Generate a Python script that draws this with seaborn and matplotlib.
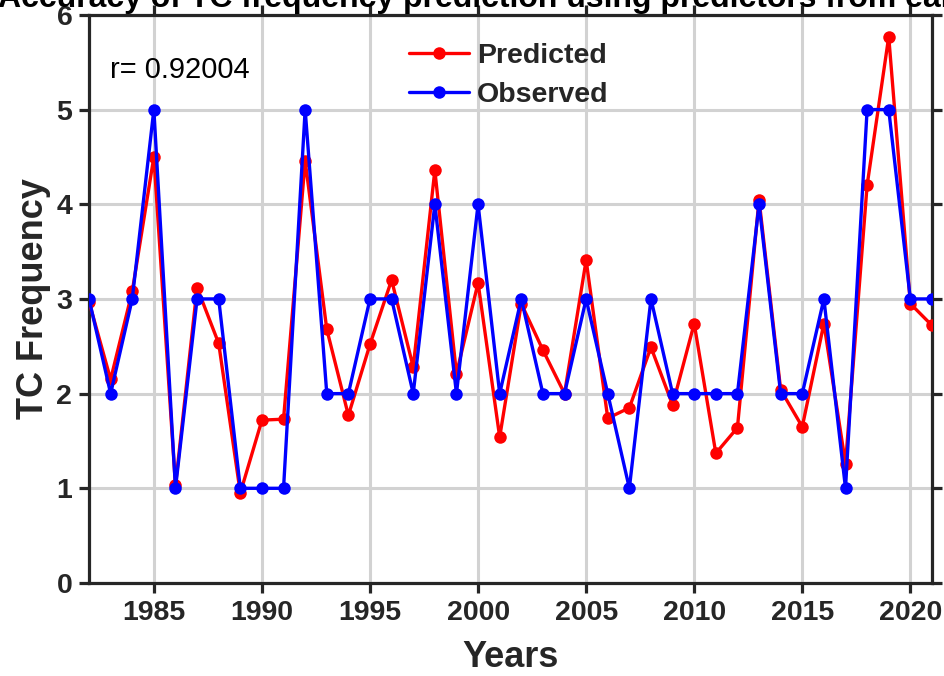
import numpy as np
import pandas as pd
import seaborn as sns
import matplotlib.pyplot as plt

# data
years = list(range(1982, 2022))
observed = [3, 2, 3, 5, 1, 3, 3, 1, 1, 1,
            5, 2, 2, 3, 3, 2, 4, 2, 4, 2,
            3, 2, 2, 3, 2, 1, 3, 2, 2, 2,
            2, 4, 2, 2, 3, 1, 5, 5, 3, 3]
predicted = [2.97, 2.15, 3.08, 4.50, 1.03, 3.12, 2.53, 0.95, 1.72, 1.73,
             4.46, 2.68, 1.77, 2.52, 3.20, 2.28, 4.36, 2.21, 3.17, 1.54,
             2.95, 2.46, 2.00, 3.41, 1.74, 1.85, 2.49, 1.88, 2.74, 1.37,
             1.64, 4.05, 2.04, 1.65, 2.74, 1.26, 4.20, 5.77, 2.95, 2.72]
r_text = "r= 0.92004"
title = "Accuracy of TC frequency prediction using predictors from earlier months"

df = pd.DataFrame({"Years": years, "Predicted": predicted, "Observed": observed})

sns.set_theme(style="ticks")
plt.rcParams['font.family'] = ['Liberation Sans', 'DejaVu Sans']
dark = '#262626'

fig = plt.figure(figsize=(9.45, 6.76), dpi=100)
ax = fig.add_axes([0.0942, 0.1376, 0.892, 0.8404])

sns.lineplot(data=df, x="Years", y="Predicted", ax=ax, color='red', marker='o',
             markersize=9, markeredgewidth=0, linewidth=2.4, label="Predicted", zorder=3)
sns.lineplot(data=df, x="Years", y="Observed", ax=ax, color='blue', marker='o',
             markersize=9, markeredgewidth=0, linewidth=2.4, label="Observed", zorder=4)

ax.set_xlim(1982, 2021)
ax.set_ylim(0, 6)
ax.set_xticks(range(1985, 2021, 5))
ax.set_yticks(range(0, 7))
ax.grid(True, color='#d2d2d2', linewidth=2.2)
ax.set_axisbelow(True)

for s in ax.spines.values():
    s.set_visible(True)
    s.set_linewidth(2.3)
    s.set_color(dark)
ax.tick_params(direction='out', length=7, width=2.3, color=dark,
               top=True, right=True, labelsize=20.5, labelcolor=dark, pad=5)
for lab in ax.get_xticklabels() + ax.get_yticklabels():
    lab.set_fontweight('bold')

ax.set_xlabel("Years", fontsize=26, fontweight='bold', color=dark, labelpad=10)
ax.set_ylabel("TC Frequency", fontsize=26, fontweight='bold', color=dark, labelpad=4)

ax.text(0.025, 0.903, r_text, transform=ax.transAxes, fontsize=21,
        color='black', va='center', ha='left')

leg = ax.legend(loc='upper left', bbox_to_anchor=(0.349, 0.995), frameon=False,
                handlelength=2.1, handletextpad=0.3, labelspacing=0.45,
                prop={'weight': 'bold', 'size': 20.5})

fig.text(-0.002, 0.9896, title, ha='left', va='baseline',
         fontsize=23, fontweight='bold', color='black')

fig.savefig("out.png", dpi=100)
